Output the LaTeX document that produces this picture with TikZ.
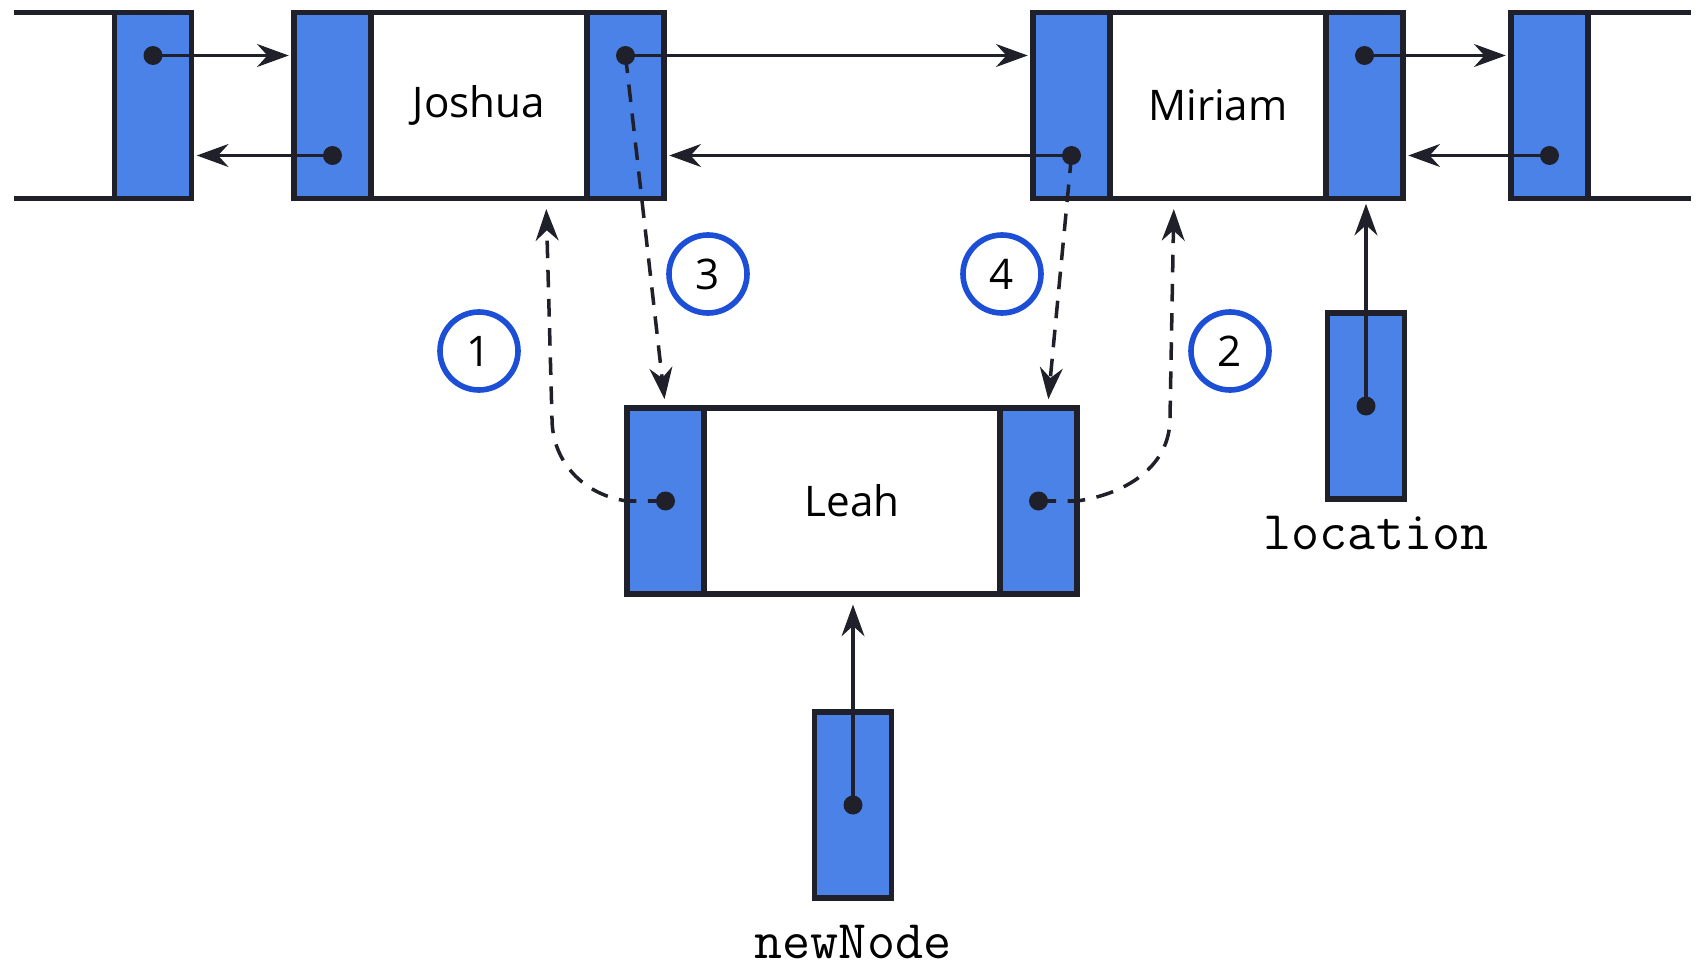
\documentclass[tikz,border=0pt]{standalone}
\usepackage{fontspec}
\newfontfamily\namefont{Open Sans}
\usetikzlibrary{arrows.meta,positioning,calc}
\definecolor{cellblue}{RGB}{74,130,232}
\definecolor{ringblue}{RGB}{28,78,214}
\definecolor{edgeink}{RGB}{32,32,42}

\begin{document}
\begin{tikzpicture}[>={Stealth[length=9pt,width=6.5pt]},line width=1pt]
        \tikzstyle{ptr} = [draw=edgeink, fill=cellblue, line width=1.5pt, minimum width=0.77cm, minimum height=1.86cm, inner sep=0pt, outer sep=0pt]
        \tikzstyle{datacell} = [draw=edgeink, fill=white, line width=1.5pt, minimum height=1.86cm, inner sep=0pt, outer sep=0pt, font=\namefont\fontsize{12}{14}\selectfont]
        \tikzstyle{badge} = [circle, draw=ringblue, line width=1.6pt, minimum size=0.78cm, inner sep=0pt, font=\namefont\fontsize{12}{14}\selectfont]
        \tikzstyle{varname} = [inner sep=0pt, anchor=base, font=\ttfamily\fontsize{15.5}{17}\selectfont]
        \tikzstyle{ref} = [->, draw=edgeink, line width=1pt, shorten >=1.5pt]
        \tikzstyle{dlink} = [ref, dash pattern=on 5pt off 3.3pt]

        \useasboundingbox (0,0) rectangle (16.96,-9.70);

        % Nodes
        \node[ptr] (pL) at (1.53,-1.055) {};
        \node[ptr] (jL) at (3.325,-1.055) {};
        \node[datacell, minimum width=2.16cm, right=0pt of jL] (jD) {Joshua};
        \node[ptr, right=0pt of jD] (jR) {};
        \node[ptr] (mL) at (10.715,-1.055) {};
        \node[datacell, minimum width=2.16cm, right=0pt of mL] (mD) {Miriam};
        \node[ptr, right=0pt of mD] (mR) {};
        \node[ptr] (pR) at (15.495,-1.055) {};
        \node[ptr] (lL) at (6.655,-5.01) {};
        \node[datacell, minimum width=2.96cm, right=0pt of lL] (lD) {Leah};
        \node[ptr, right=0pt of lD] (lR) {};
        \node[ptr] (loc) at (13.66,-4.06) {};
        \node[varname] (locname) at ([xshift=0.1cm,yshift=-0.5cm]loc.south) {location};
        \node[ptr] (new) at (8.53,-8.05) {};
        \node[varname] (newname) at ([yshift=-0.6cm]new.south) {newNode};

        % open ends of the list
        \draw[edgeink, line width=1.5pt] (pL.north west) -- ++(-1.0,0) (pL.south west) -- ++(-1.0,0);
        \draw[edgeink, line width=1.5pt] (pR.north east) -- ++(1.03,0) (pR.south east) -- ++(1.03,0);

        % Steps
        \node[badge] (c1) at (4.79,-3.51) {1};
        \node[badge] (c2) at (12.30,-3.51) {2};
        \node[badge] (c3) at (7.08,-2.74) {3};
        \node[badge] (c4) at (10.02,-2.74) {4};

        % Pointer spots
        \coordinate (pLd) at ([yshift=0.5cm]pL.center);
        \coordinate (jLd) at ([yshift=-0.5cm]jL.center);
        \coordinate (jRd) at ([yshift=0.5cm]jR.center);
        \coordinate (mLd) at ([yshift=-0.5cm]mL.center);
        \coordinate (mRd) at ([yshift=0.5cm]mR.center);
        \coordinate (pRd) at ([yshift=-0.5cm]pR.center);
        \coordinate (lLd) at (lL.center);
        \coordinate (lRd) at (lR.center);
        \coordinate (locd) at (loc.center);
        \coordinate (newd) at (new.center);
        \coordinate (b1) at ([xshift=0.67cm]jD.south);
        \coordinate (b2) at ([xshift=-0.44cm]mD.south);

        % Edges
        \path (pLd) edge[ref] (pLd -| jL.west);
        \path (jLd) edge[ref] (jLd -| pL.east);
        \path (jRd) edge[ref] (jRd -| mL.west);
        \path (mLd) edge[ref] (mLd -| jR.east);
        \path (mRd) edge[ref] (mRd -| pR.west);
        \path (pRd) edge[ref] (pRd -| mR.east);
        \path (locd) edge[ref] (locd |- mR.south);
        \path (newd) edge[ref, shorten >=3pt] (newd |- lD.south);

        \draw[dlink, shorten >=3pt] (lLd) -- (lL.west) to[out=172,in=-90] ([xshift=0.06cm,yshift=-2.2cm]b1) -- (b1);
        \draw[dlink, shorten >=3pt] (lRd) -- (lR.east) to[out=8,in=-90] ([xshift=-0.04cm,yshift=-2.2cm]b2) -- (b2);
        \draw[dlink, shorten >=2.5pt] (jRd) -- (lL.north);
        \draw[dlink, shorten >=2.5pt] (mLd) -- ([xshift=0.09cm]lR.north);

        \foreach \d in {pLd,jLd,jRd,mLd,mRd,pRd,lLd,lRd,locd,newd}
            \fill[edgeink] (\d) circle (0.095);
    \end{tikzpicture}
\end{document}
